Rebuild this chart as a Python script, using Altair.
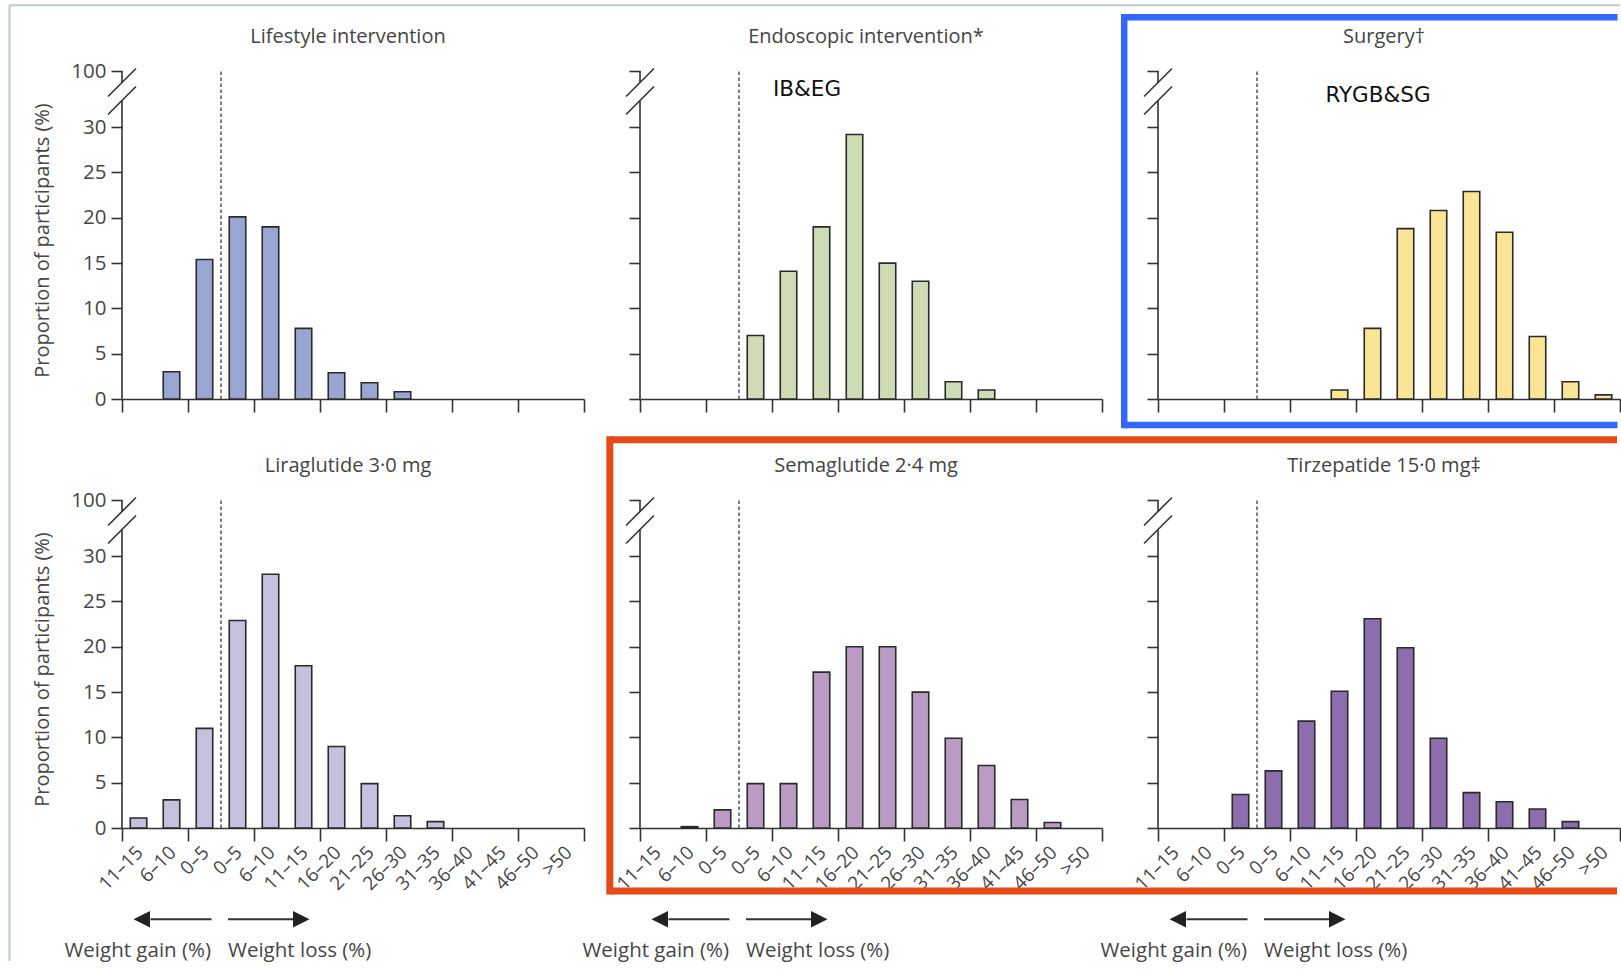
import altair as alt
import pandas as pd

# ---------------- data ----------------
categories = ["11–15", "6–10", "0–5", "0–5", "6–10", "11–15", "16–20", "21–25",
              "26–30", "31–35", "36–40", "41–45", "46–50", ">50"]

lifestyle   = [0, 3.0, 15.4, 20.1, 19.0, 7.8, 2.9, 1.8, 0.8, 0, 0, 0, 0, 0]
endoscopic  = [0, 0, 0, 7.0, 14.1, 19.0, 29.2, 15.0, 13.0, 1.9, 1.0, 0, 0, 0]
surgery     = [0, 0, 0, 0, 0, 1.0, 7.8, 18.8, 20.8, 22.9, 18.4, 6.9, 1.9, 0.45]
liraglutide = [1.1, 3.1, 11.0, 22.9, 28.0, 17.9, 9.0, 4.9, 1.35, 0.7, 0, 0, 0, 0]
semaglutide = [0, 0.15, 2.0, 4.9, 4.9, 17.2, 20.0, 20.0, 15.0, 9.9, 6.9, 3.15, 0.6, 0]
tirzepatide = [0, 0, 3.7, 6.3, 11.8, 15.1, 23.1, 19.9, 9.9, 3.9, 2.9, 2.1, 0.7, 0]

titles = ["Lifestyle intervention", "Endoscopic intervention*", "Surgery†",
          "Liraglutide 3·0 mg", "Semaglutide 2·4 mg", "Tirzepatide 15·0 mg‡"]
colors = ["#99a6d2", "#cddcb4", "#fae596", "#c5c0de", "#ba9bc4", "#8c6eaf"]
series = [lifestyle, endoscopic, surgery, liraglutide, semaglutide, tirzepatide]

y_ticks = [0, 5, 10, 15, 20, 25, 30]
y_top = 36.2           # position of the "100" tick above the axis break
divider = 3            # boundary between weight gain and weight loss bins

# ---------------- style ----------------
FONT = "Open Sans"
ANN_FONT = "DejaVu Sans"
W, H = 462, 328
AX = "#333333"
TXT = "#464646"

dummy = pd.DataFrame({"d": [0]})


def seg(x1, y1, x2, y2, color=AX, width=1.6, cap="butt"):
    return alt.Chart(dummy).mark_rule(color=color, strokeWidth=width, strokeCap=cap).encode(
        x=alt.value(x1), x2=alt.value(x2), y=alt.value(y1), y2=alt.value(y2))


def txt(s, x, y, size, align="center", font=FONT, color=TXT):
    return alt.Chart(dummy).mark_text(text=s, font=font, fontSize=size, color=color,
                                      align=align, baseline="middle").encode(
        x=alt.value(x), y=alt.value(y))


def head(x, y, path):
    return alt.Chart(dummy).mark_point(shape=path, size=272, filled=True, opacity=1,
                                       color="#222222").encode(x=alt.value(x), y=alt.value(y))


def panel(i):
    row, col = divmod(i, 3)
    df = pd.DataFrame({"idx": list(range(14)), "cat": categories, "value": series[i]})

    xscale = alt.Scale(domain=[0, 14], nice=False, zero=False)
    x_axis = alt.Axis(values=list(range(15)), tickSize=13, tickWidth=1.6, tickColor=AX,
                      domainColor=AX, domainWidth=1.6, grid=False, title=None, labels=False)
    y_kwargs = dict(values=y_ticks + [y_top], domain=False, tickSize=11, tickWidth=1.6,
                    tickColor=AX, grid=False, labels=(col == 0),
                    labelExpr="datum.value > 31 ? '100' : datum.label",
                    labelFont=FONT, labelFontSize=20.5, labelColor=TXT, labelPadding=5)
    if col == 0:
        y_kwargs.update(title="Proportion of participants (%)", titleFont=FONT,
                        titleFontSize=20, titleFontWeight="normal", titleColor=TXT,
                        titleX=-80, titleY=H / 2 + 5, titleAngle=270,
                        titleAlign="center", titleBaseline="middle")
    else:
        y_kwargs.update(title=None)
    y_axis = alt.Axis(**y_kwargs)

    bars = alt.Chart(df).transform_filter("datum.value > 0").transform_calculate(
        x0="datum.idx + 0.25", x1="datum.idx + 0.75"
    ).mark_bar(fill=colors[i], stroke="#2a2a2a", strokeWidth=1.6).encode(
        x=alt.X("x0:Q", scale=xscale, axis=x_axis),
        x2="x1:Q",
        y=alt.Y("value:Q", scale=alt.Scale(domain=[0, y_top], nice=False), axis=y_axis),
        y2=alt.Y2(datum=0),
    )

    dashed = alt.Chart(dummy).mark_rule(strokeDash=[3.5, 2.5], color="#555555", strokeWidth=1.5).encode(
        x=alt.X(datum=divider), y=alt.Y(datum=0), y2=alt.Y2(datum=y_top))

    layers = [bars, dashed,
              # broken y axis: lower part, top stub, and two slashes
              seg(0, 29.5, 0, H),
              seg(0, 0, 0, 12),
              seg(-14, 25.5, 14, -2.5),
              seg(-14, 43.5, 14, 15.5),
              # panel title
              txt(titles[i], W / 2 - 5, -34, 20, color="#444444")]

    if row == 1:
        # rotated category labels under the bottom-row axes
        labels = alt.Chart(df).transform_calculate(xc="datum.idx + 0.5").mark_text(
            angle=315, align="right", baseline="middle", font=FONT, fontSize=19,
            color=TXT, dx=2
        ).encode(x=alt.X("xc:Q"), y=alt.value(H + 23), text="cat:N")
        layers.append(labels)

    if i == 0:
        # thin frame of the whole figure
        layers += [seg(-112.5, -65.7, 1498, -65.7, color="#b8cdc8", width=2),
                   seg(-112.5, -65.7, -112.5, 890, color="#b8cdc8", width=2)]
    if i == 1:
        layers.append(txt("IB&EG", 167, 19, 21.5, font=ANN_FONT, color="#111111"))
    if i == 2:
        layers.append(txt("RYGB&SG", 220, 25, 21.5, font=ANN_FONT, color="#111111"))
        blue = "#3366ff"
        layers += [seg(-33.8, -53.7, 459.5, -53.7, color=blue, width=6.5),
                   seg(-33.8, -53.7, -33.8, 354, color=blue, width=6.5, cap="square"),
                   seg(-33.8, 354, 459.5, 354, color=blue, width=6.5)]
    if row == 1:
        ay = 419.3
        layers += [seg(28.5, ay, 89.5, ay, color="#333333", width=2),
                   seg(106, ay, 171, ay, color="#333333", width=2),
                   head(19.75, ay, "M-1,0L1,-1L1,1Z"),
                   head(179.25, ay, "M1,0L-1,-1L-1,1Z"),
                   txt("Weight gain (%)", 89, 450.8, 20.5, align="right"),
                   txt("Weight loss (%)", 106, 450.8, 20.5, align="left")]
    if i == 5:
        red = "#e64a19"
        layers += [seg(-548.2, -60.2, 459, -60.2, color=red, width=7),
                   seg(-548.2, -60.2, -548.2, 391, color=red, width=7, cap="square"),
                   seg(-548.2, 391, 459, 391, color=red, width=7)]

    return alt.layer(*layers).properties(width=W, height=H)


chart = alt.concat(*[panel(i) for i in range(6)], columns=3,
                   spacing={"row": 101, "column": 56}, bounds="flush").properties(
    padding={"left": 8, "top": 4, "right": 0, "bottom": 2},
    background="white",
).configure_view(stroke=None)

chart.save("out.html", embed_options={"renderer": "svg", "actions": False})
